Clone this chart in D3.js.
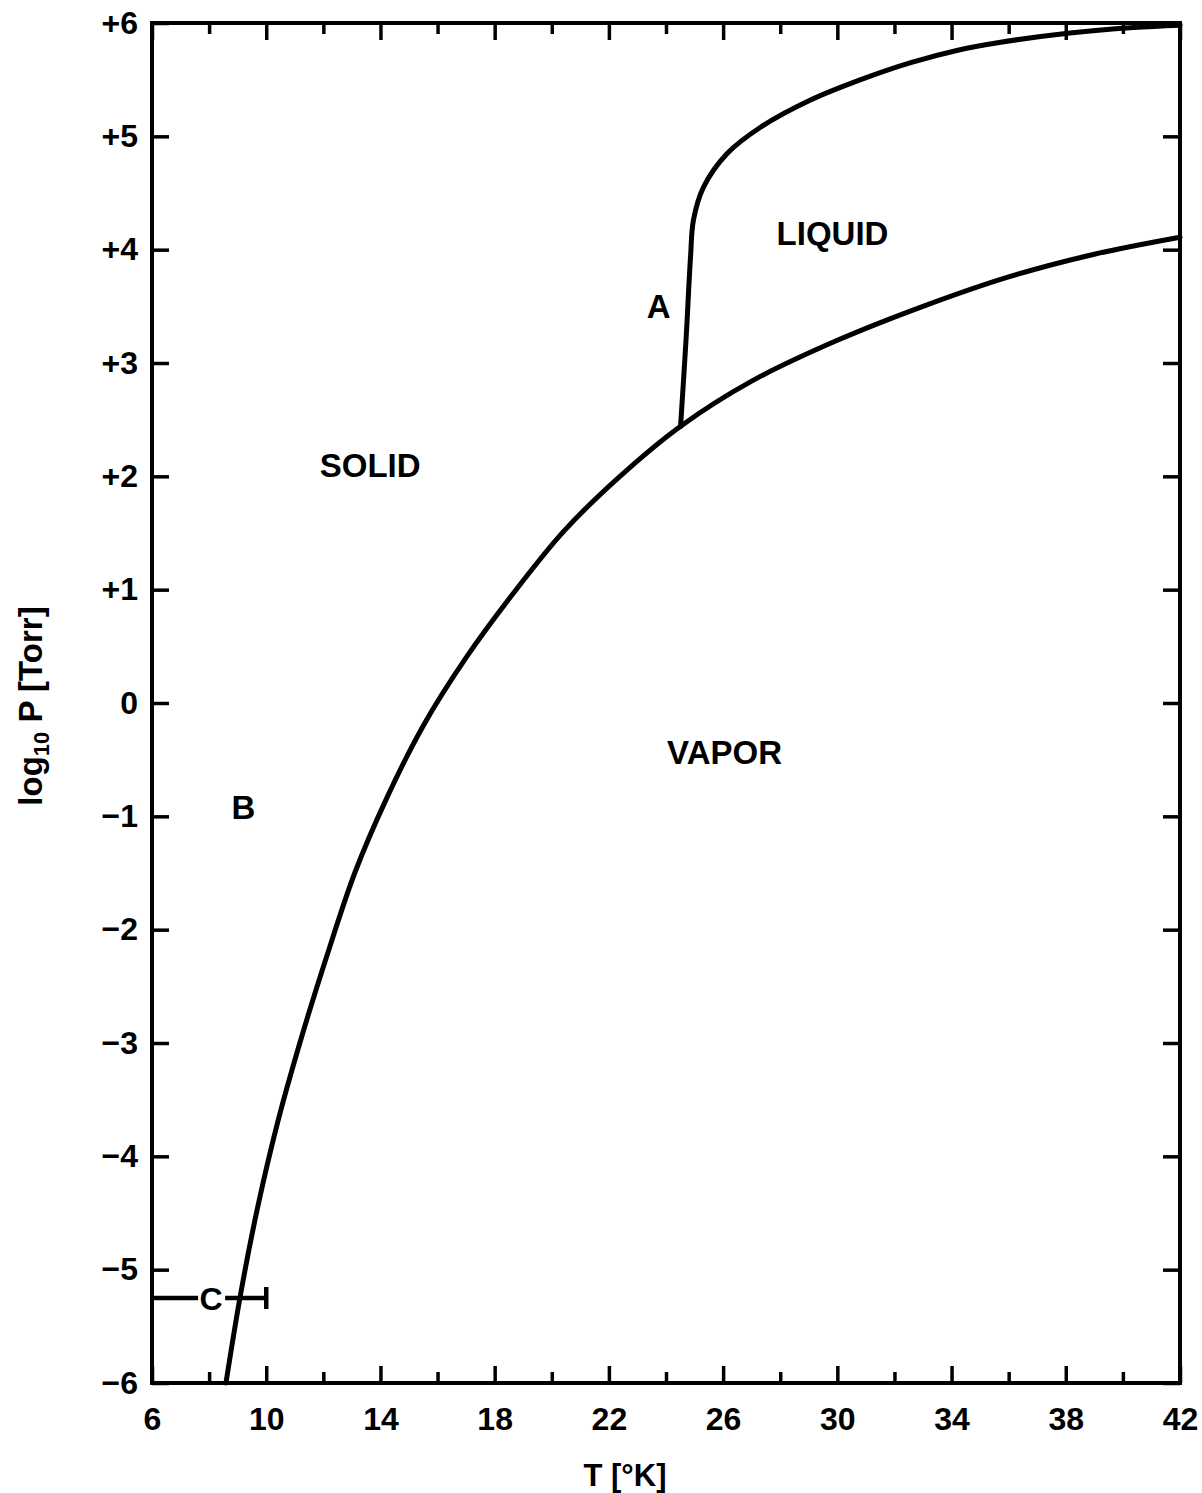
<!DOCTYPE html>
<html>
<head>
<meta charset="utf-8">
<script src="https://cdn.jsdelivr.net/npm/d3@7"></script>
<style>
  body { margin: 0; background: #fff; }
  text { font-family: "Liberation Sans", Arial, sans-serif; font-weight: bold; fill: #000; }
</style>
</head>
<body>
<div class="chart"></div>
<script>
var svgWidth = 1202;
var svgHeight = 1493;

var margin = { top: 23, right: 22, bottom: 110, left: 152 };
var width = svgWidth - margin.left - margin.right;
var height = svgHeight - margin.top - margin.bottom;

// tick values / labels
var xMajorTicks = [6, 10, 14, 18, 22, 26, 30, 34, 38, 42];
var xMajorLabels = ["6", "10", "14", "18", "22", "26", "30", "34", "38", "42"];
var xMinorTicks = [8, 12, 16, 20, 24, 28, 32, 36, 40];
var yTicks = [-6, -5, -4, -3, -2, -1, 0, 1, 2, 3, 4, 5, 6];
var yTickLabels = ["\u22126", "\u22125", "\u22124", "\u22123", "\u22122", "\u22121", "0",
                   "+1", "+2", "+3", "+4", "+5", "+6"];

// sublimation + vaporization curve (T, log10 P)
var vaporT = [8.59, 9.1, 9.7, 10.4, 11.2, 12.1, 13.1, 14.2, 15.5, 17.0, 18.6,
              20.4, 22.3, 24.5, 27.0, 30.0, 33.0, 36.0, 39.0, 42.0];
var vaporP = [-6.0, -5.22, -4.45, -3.70, -2.98, -2.25, -1.50, -0.85, -0.20, 0.40, 0.95,
              1.51, 1.98, 2.44, 2.84, 3.20, 3.50, 3.76, 3.96, 4.11];

// melting curve (A)
var meltT = [24.51, 24.70, 24.86, 24.96, 25.31, 26.15, 27.31, 29.06, 30.82, 32.57, 34.22,
             35.72, 38.07, 40.38, 42.0];
var meltP = [2.44, 3.20, 3.94, 4.26, 4.55, 4.85, 5.08, 5.32, 5.50, 5.65, 5.76,
             5.83, 5.91, 5.96, 5.98];

// bar C
var cBarP = -5.25;
var cBarT = [6, 10];
var cLabelT = 8.07;

// region labels
var regionNames = ["SOLID", "LIQUID", "VAPOR", "A", "B"];
var regionT = [13.64, 29.83, 26.05, 23.74, 9.2];
var regionP = [2.10, 4.15, -0.43, 3.50, -0.92];

var svg = d3.select(".chart")
  .append("svg")
  .attr("width", svgWidth)
  .attr("height", svgHeight);

var chartGroup = svg.append("g")
  .attr("transform", `translate(${margin.left}, ${margin.top})`);

var xScale = d3.scaleLinear().domain([6, 42]).range([0, width]);
var yScale = d3.scaleLinear().domain([-6, 6]).range([height, 0]);

// axes with inward ticks
var bottomAxis = d3.axisBottom(xScale)
  .tickValues(xMajorTicks)
  .tickSize(-17)
  .tickPadding(24)
  .tickFormat((d, i) => xMajorLabels[i]);

var bottomMinor = d3.axisBottom(xScale).tickValues(xMinorTicks).tickSize(-11).tickFormat("");
var topMajor = d3.axisTop(xScale).tickValues(xMajorTicks).tickSize(-17).tickFormat("");
var topMinor = d3.axisTop(xScale).tickValues(xMinorTicks).tickSize(-11).tickFormat("");

var leftAxis = d3.axisLeft(yScale)
  .tickValues(yTicks)
  .tickSize(-17)
  .tickPadding(14)
  .tickFormat((d, i) => yTickLabels[i]);
var rightAxis = d3.axisRight(yScale).tickValues(yTicks).tickSize(-17).tickFormat("");

function styleAxis(g) {
  g.select(".domain").remove();
  g.selectAll(".tick line").attr("stroke", "#000").attr("stroke-width", 3.5);
  g.selectAll(".tick text").attr("font-size", 32).attr("fill", "#000")
    .attr("font-family", "Liberation Sans, Arial, sans-serif").attr("font-weight", "bold");
}

chartGroup.append("g").attr("transform", `translate(0, ${height})`).call(bottomAxis).call(styleAxis);
chartGroup.append("g").attr("transform", `translate(0, ${height})`).call(bottomMinor).call(styleAxis);
chartGroup.append("g").call(topMajor).call(styleAxis);
chartGroup.append("g").call(topMinor).call(styleAxis);
chartGroup.append("g").call(leftAxis).call(styleAxis);
chartGroup.append("g").attr("transform", `translate(${width}, 0)`).call(rightAxis).call(styleAxis);

// frame
chartGroup.append("rect")
  .attr("x", 0).attr("y", 0)
  .attr("width", width).attr("height", height)
  .attr("fill", "none")
  .attr("stroke", "#000")
  .attr("stroke-width", 4);

// curves
var line = d3.line()
  .x(d => xScale(d[0]))
  .y(d => yScale(d[1]))
  .curve(d3.curveCatmullRom.alpha(0.5));

chartGroup.append("path")
  .datum(vaporT.map((t, i) => [t, vaporP[i]]))
  .attr("d", line)
  .attr("fill", "none")
  .attr("stroke", "#000")
  .attr("stroke-width", 5)
  .attr("stroke-linecap", "round");

chartGroup.append("path")
  .datum(meltT.map((t, i) => [t, meltP[i]]))
  .attr("d", line)
  .attr("fill", "none")
  .attr("stroke", "#000")
  .attr("stroke-width", 5)
  .attr("stroke-linecap", "round");

// bar C with the label in a gap
var cY = yScale(cBarP);
var cMid = xScale(cLabelT);
chartGroup.append("line")
  .attr("x1", xScale(cBarT[0])).attr("x2", cMid - 13)
  .attr("y1", cY).attr("y2", cY)
  .attr("stroke", "#000").attr("stroke-width", 4.5);
chartGroup.append("line")
  .attr("x1", cMid + 14).attr("x2", xScale(cBarT[1]))
  .attr("y1", cY).attr("y2", cY)
  .attr("stroke", "#000").attr("stroke-width", 4.5);
chartGroup.append("line")
  .attr("x1", xScale(cBarT[1])).attr("x2", xScale(cBarT[1]))
  .attr("y1", cY - 11).attr("y2", cY + 11)
  .attr("stroke", "#000").attr("stroke-width", 4.5);
chartGroup.append("text")
  .attr("x", cMid).attr("y", cY + 12)
  .attr("text-anchor", "middle")
  .attr("font-size", 32)
  .text("C");

// region labels
chartGroup.selectAll(".region")
  .data(regionNames)
  .enter()
  .append("text")
  .attr("class", "region")
  .attr("x", (d, i) => xScale(regionT[i]))
  .attr("y", (d, i) => yScale(regionP[i]) + 12)
  .attr("text-anchor", "middle")
  .attr("font-size", 33)
  .text(d => d);

// axis titles
svg.append("text")
  .attr("x", 625)
  .attr("y", 1486)
  .attr("text-anchor", "middle")
  .attr("font-size", 31)
  .text("T [\u00b0K]");

var yTitle = svg.append("text")
  .attr("transform", "translate(42, 706) rotate(-90)")
  .attr("text-anchor", "middle")
  .attr("font-size", 33);
yTitle.append("tspan").text("log");
yTitle.append("tspan").attr("font-size", 22).attr("dy", 7).text("10");
yTitle.append("tspan").attr("dy", -7).text(" P [Torr]");
</script>
</body>
</html>
